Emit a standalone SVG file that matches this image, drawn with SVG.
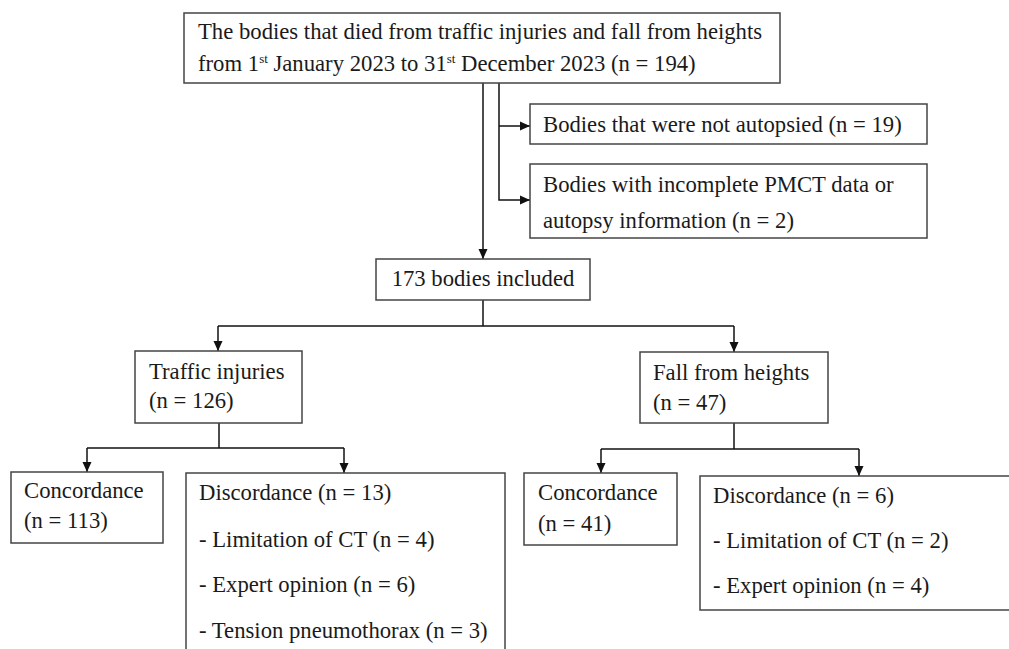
<svg xmlns="http://www.w3.org/2000/svg" width="1009" height="649" viewBox="0 0 1009 649">
<defs>
<style>
.box{fill:#fff;stroke:#444;stroke-width:1.5}
.t{font-family:"Liberation Serif","Times New Roman",serif;font-size:22.7px;fill:#1a1a1a}
.c{fill:none;stroke:#111;stroke-width:1.5}
.sup{font-size:13px}
</style>
<marker id="ah" viewBox="0 0 10 10" refX="10" refY="5" markerWidth="10" markerHeight="10" markerUnits="userSpaceOnUse" orient="auto">
<path d="M0,0.5 L10,5 L0,9.5 z" fill="#111"/>
</marker>
</defs>
<rect width="1009" height="649" fill="#fff"/>
<g id="connectors">
<path class="c" d="M483,83 V259" marker-end="url(#ah)"/>
<path class="c" d="M499,83 V200 H530" marker-end="url(#ah)"/>
<path class="c" d="M499,126 H530" marker-end="url(#ah)"/>
<path class="c" d="M483,300 V326"/>
<path class="c" d="M218,326 H734"/>
<path class="c" d="M218,326 V351" marker-end="url(#ah)"/>
<path class="c" d="M734,326 V352" marker-end="url(#ah)"/>
<path class="c" d="M219,423 V448"/>
<path class="c" d="M87,448 H344"/>
<path class="c" d="M87,448 V472" marker-end="url(#ah)"/>
<path class="c" d="M344,448 V473" marker-end="url(#ah)"/>
<path class="c" d="M734,423 V449"/>
<path class="c" d="M601,449 H859"/>
<path class="c" d="M601,449 V473" marker-end="url(#ah)"/>
<path class="c" d="M859,449 V476" marker-end="url(#ah)"/>
</g>
<g id="n-top">
<rect class="box" x="184" y="13" width="596" height="70"/>
<text class="t" x="198" y="39">The bodies that died from traffic injuries and fall from heights</text>
<text class="t" x="198" y="71">from 1<tspan class="sup" dy="-8">st</tspan><tspan dy="8"> January 2023 to 31</tspan><tspan class="sup" dy="-8">st</tspan><tspan dy="8"> December 2023 (n = 194)</tspan></text>
</g>
<g id="n-excl1">
<rect class="box" x="530" y="104" width="397" height="40"/>
<text class="t" x="543" y="132">Bodies that were not autopsied (n = 19)</text>
</g>
<g id="n-excl2">
<rect class="box" x="530" y="164" width="397" height="74"/>
<text class="t" x="543" y="192">Bodies with incomplete PMCT data or</text>
<text class="t" x="543" y="228">autopsy information (n = 2)</text>
</g>
<g id="n-included">
<rect class="box" x="376" y="259" width="214" height="41"/>
<text class="t" x="483" y="286" text-anchor="middle">173 bodies included</text>
</g>
<g id="n-traffic">
<rect class="box" x="135" y="351" width="167" height="72"/>
<text class="t" x="149" y="379">Traffic injuries</text>
<text class="t" x="149" y="408">(n = 126)</text>
</g>
<g id="n-fall">
<rect class="box" x="640" y="352" width="188" height="71"/>
<text class="t" x="653" y="380">Fall from heights</text>
<text class="t" x="653" y="410">(n = 47)</text>
</g>
<g id="n-conc1">
<rect class="box" x="11" y="472" width="152" height="71"/>
<text class="t" x="24" y="498">Concordance</text>
<text class="t" x="24" y="528">(n = 113)</text>
</g>
<g id="n-disc1">
<rect class="box" x="186" y="473" width="319" height="190"/>
<text class="t" x="199" y="500">Discordance (n = 13)</text>
<text class="t" x="199" y="547">- Limitation of CT (n = 4)</text>
<text class="t" x="199" y="592">- Expert opinion (n = 6)</text>
<text class="t" x="199" y="638">- Tension pneumothorax (n = 3)</text>
</g>
<g id="n-conc2">
<rect class="box" x="524" y="473" width="153" height="72"/>
<text class="t" x="538" y="500">Concordance</text>
<text class="t" x="538" y="531">(n = 41)</text>
</g>
<g id="n-disc2">
<rect class="box" x="700" y="476" width="320" height="134"/>
<text class="t" x="713" y="503">Discordance (n = 6)</text>
<text class="t" x="713" y="548">- Limitation of CT (n = 2)</text>
<text class="t" x="713" y="593">- Expert opinion (n = 4)</text>
</g>
</svg>
